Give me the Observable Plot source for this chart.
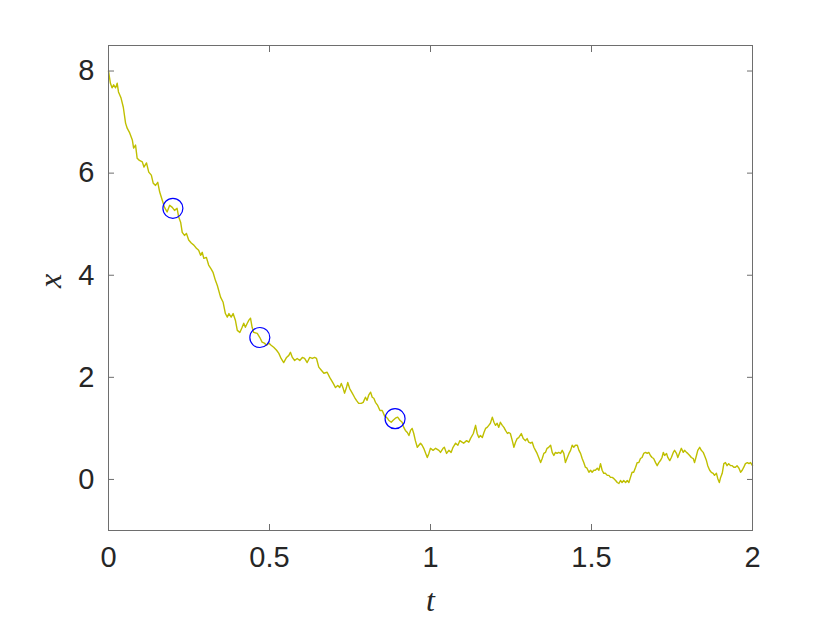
<!DOCTYPE html>
<html>
<head>
<meta charset="utf-8">
<script src="https://cdn.jsdelivr.net/npm/d3@7"></script>
<script src="https://cdn.jsdelivr.net/npm/@observablehq/plot@0.6"></script>
<style>
  html, body { margin: 0; padding: 0; background: #fff; }
  #chart { width: 830px; height: 623px; }
</style>
</head>
<body>
<div id="chart"></div>
<script>
// Path samples: time t and state x
const tValues = [
  0, 0.006, 0.011, 0.016, 0.022, 0.027, 0.031, 0.039, 0.046, 0.053, 0.058, 0.065, 0.074, 0.078, 0.084, 0.089,
  0.096, 0.105, 0.110, 0.118, 0.125, 0.133, 0.139, 0.146, 0.153, 0.159, 0.167, 0.174, 0.182, 0.190, 0.198, 0.205,
  0.213, 0.218, 0.224, 0.229, 0.236, 0.242, 0.249, 0.257, 0.265, 0.273, 0.280, 0.286, 0.291, 0.296,
  0.304, 0.311, 0.319, 0.325, 0.332, 0.338, 0.348, 0.356, 0.363, 0.369, 0.374, 0.381, 0.387, 0.394, 0.400, 0.408,
  0.415, 0.420, 0.425, 0.431, 0.436, 0.441, 0.446, 0.451, 0.462, 0.470, 0.477, 0.484, 0.491, 0.498, 0.505, 0.513,
  0.522, 0.529, 0.536, 0.544, 0.553, 0.560, 0.565, 0.571, 0.578, 0.586, 0.594, 0.602, 0.609, 0.617, 0.625, 0.633,
  0.640, 0.646, 0.653, 0.661, 0.669, 0.679, 0.687,
  0.698, 0.705, 0.712, 0.718, 0.723, 0.729, 0.733, 0.739, 0.743, 0.749, 0.757, 0.764, 0.770, 0.777, 0.785, 0.791,
  0.798, 0.803, 0.808, 0.814, 0.819, 0.824, 0.829, 0.836, 0.843, 0.850, 0.857, 0.866, 0.870, 0.878, 0.884, 0.891,
  0.898, 0.905, 0.912, 0.917, 0.922, 0.928, 0.933, 0.938, 0.943, 0.948, 0.953, 0.959, 0.964, 0.969, 0.974, 0.979,
  0.984, 0.990, 0.995, 1.000, 1.008, 1.016, 1.026,
  1.031, 1.039, 1.043, 1.050, 1.057, 1.064, 1.070, 1.078, 1.085, 1.091, 1.098, 1.103, 1.112, 1.119, 1.124, 1.133,
  1.140, 1.145, 1.150, 1.155, 1.161, 1.166, 1.171, 1.176, 1.181, 1.186, 1.192, 1.197, 1.202, 1.207, 1.212, 1.217,
  1.223, 1.228, 1.233, 1.239, 1.243, 1.248, 1.254, 1.259, 1.264, 1.269, 1.274, 1.282, 1.288, 1.295, 1.300, 1.305,
  1.311, 1.316, 1.321, 1.326, 1.331, 1.336, 1.342, 1.347, 1.352, 1.357, 1.362, 1.367,
  1.373, 1.378, 1.383, 1.388, 1.393, 1.398, 1.404, 1.409, 1.414, 1.419, 1.425, 1.430, 1.435, 1.440, 1.445, 1.450,
  1.456, 1.461, 1.466, 1.471, 1.476, 1.481, 1.486, 1.492, 1.497, 1.502, 1.507, 1.512, 1.518, 1.523, 1.528, 1.533,
  1.538, 1.543, 1.549, 1.554, 1.559, 1.564, 1.569, 1.575, 1.580, 1.585, 1.590, 1.595, 1.600, 1.606, 1.611, 1.616,
  1.621, 1.626, 1.631, 1.637, 1.642, 1.647, 1.652, 1.657, 1.662, 1.668, 1.673, 1.678, 1.683,
  1.688, 1.693, 1.699, 1.704, 1.709, 1.714, 1.719, 1.723, 1.727, 1.733, 1.737, 1.743, 1.748, 1.754, 1.758, 1.764,
  1.768, 1.774, 1.779, 1.785, 1.789, 1.795, 1.799, 1.805, 1.810, 1.816, 1.820, 1.826, 1.830, 1.836, 1.841, 1.847,
  1.851, 1.857, 1.861, 1.867, 1.872, 1.878, 1.882, 1.888, 1.892, 1.897, 1.901, 1.906, 1.911, 1.916, 1.921, 1.926,
  1.932, 1.937, 1.942, 1.947, 1.952, 1.958, 1.963, 1.968, 1.973, 1.978, 1.984, 1.989, 1.994, 2.000
];
const xValues = [
  8.00, 7.76, 7.67, 7.73, 7.67, 7.76, 7.59, 7.47, 7.29, 6.98, 6.88, 6.80, 6.65, 6.49, 6.55, 6.29,
  6.25, 6.22, 6.12, 6.20, 6.02, 5.96, 5.80, 5.76, 5.82, 5.63, 5.47, 5.33, 5.24, 5.37, 5.33, 5.27,
  5.31, 5.14, 5.04, 4.84, 4.78, 4.82, 4.69, 4.63, 4.59, 4.53, 4.49, 4.39, 4.45, 4.33,
  4.35, 4.20, 4.12, 4.05, 3.90, 3.80, 3.57, 3.47, 3.25, 3.18, 3.25, 3.18, 3.25, 3.12, 2.92, 2.88,
  2.98, 3.06, 2.98, 3.06, 3.12, 3.16, 2.98, 2.88, 2.86, 2.78, 2.69, 2.67, 2.63, 2.67, 2.63, 2.59,
  2.53, 2.47, 2.37, 2.29, 2.39, 2.43, 2.49, 2.39, 2.33, 2.37, 2.33, 2.39, 2.37, 2.29, 2.39, 2.37,
  2.39, 2.37, 2.20, 2.14, 2.08, 2.10, 2.00,
  1.88, 1.80, 1.84, 1.80, 1.88, 1.78, 1.69, 1.80, 1.90, 1.78, 1.69, 1.61, 1.55, 1.49, 1.49, 1.51,
  1.61, 1.55, 1.65, 1.71, 1.61, 1.59, 1.51, 1.45, 1.35, 1.35, 1.25, 1.20, 1.16, 1.12, 1.16, 1.20,
  1.22, 1.16, 1.12, 1.02, 0.96, 0.92, 0.86, 0.96, 1.00, 0.90, 0.76, 0.63, 0.67, 0.71, 0.67, 0.61,
  0.53, 0.43, 0.51, 0.61, 0.57, 0.61, 0.57,
  0.53, 0.61, 0.63, 0.51, 0.57, 0.53, 0.63, 0.71, 0.67, 0.76, 0.73, 0.71, 0.76, 0.73, 0.80, 0.90,
  1.06, 0.90, 0.82, 0.86, 0.82, 0.92, 1.00, 1.02, 1.06, 1.10, 1.22, 1.12, 1.06, 1.10, 1.02, 1.12,
  1.06, 1.02, 0.96, 0.90, 0.92, 0.90, 0.76, 0.63, 0.73, 0.80, 0.82, 0.90, 0.80, 0.76, 0.80, 0.73,
  0.71, 0.73, 0.63, 0.57, 0.51, 0.43, 0.33, 0.41, 0.51, 0.53, 0.61, 0.63,
  0.67, 0.53, 0.47, 0.53, 0.51, 0.53, 0.51, 0.57, 0.51, 0.33, 0.43, 0.51, 0.57, 0.67, 0.63, 0.67,
  0.67, 0.57, 0.51, 0.41, 0.33, 0.24, 0.22, 0.14, 0.18, 0.14, 0.18, 0.18, 0.22, 0.18, 0.31, 0.18,
  0.12, 0.12, 0.08, 0.08, 0.04, 0.04, 0.02, -0.02, -0.06, -0.08, -0.02, -0.06, -0.02, -0.06, -0.02, -0.06,
  0.04, 0.14, 0.14, 0.24, 0.33, 0.33, 0.41, 0.43, 0.51, 0.53, 0.51, 0.53, 0.47,
  0.43, 0.41, 0.33, 0.27, 0.33, 0.37, 0.43, 0.53, 0.47, 0.51, 0.43, 0.37, 0.43, 0.53, 0.57, 0.51,
  0.43, 0.53, 0.61, 0.53, 0.57, 0.53, 0.51, 0.47, 0.43, 0.41, 0.33, 0.47, 0.57, 0.63, 0.57, 0.53,
  0.47, 0.37, 0.27, 0.18, 0.14, 0.12, 0.08, 0.12, 0.02, -0.06, 0.04, 0.12, 0.31, 0.33, 0.27, 0.31,
  0.27, 0.27, 0.24, 0.24, 0.27, 0.22, 0.14, 0.18, 0.24, 0.31, 0.33, 0.31, 0.33, 0.27
];

// Highlighted sample points (blue circles)
const markT = [0.20, 0.47, 0.89];
const markX = [5.31, 2.78, 1.19];

// Axes
const xTicks = [0, 0.5, 1, 1.5, 2];
const yTicks = [0, 2, 4, 6, 8];
const xDomain = [0, 2];
const yDomain = [-1, 8.5];
const xAxisLabel = "t";
const yAxisLabel = "x";

const pathData = tValues.map((t, i) => ({t, x: xValues[i]}));
const markData = markT.map((t, i) => ({t, x: markX[i]}));

const axisColor = "#262626";
const frameColor = "#6e6e6e";
const hidden = () => "";

const chart = Plot.plot({
  width: 830,
  height: 623,
  marginLeft: 108,
  marginRight: 78,
  marginTop: 45,
  marginBottom: 93,
  style: {fontFamily: "'Liberation Sans', Arial, sans-serif", fontSize: "29px", color: axisColor, background: "#fff"},
  x: {domain: xDomain},
  y: {domain: yDomain},
  marks: [
    Plot.line(pathData, {x: "t", y: "x", stroke: "#bfbf00", strokeWidth: 1.4}),
    Plot.dot(markData, {x: "t", y: "x", r: 10, stroke: "#0000ff", strokeWidth: 1.2, fill: "none"}),
    Plot.frame({stroke: frameColor, strokeWidth: 1}),
    // inward ticks on all four sides
    Plot.axisX({anchor: "bottom", ticks: xTicks, tickSize: 6, dy: -6, tickFormat: hidden, label: null, stroke: frameColor}),
    Plot.axisX({anchor: "top", ticks: xTicks, tickSize: 6, dy: 6, tickFormat: hidden, label: null, stroke: frameColor}),
    Plot.axisY({anchor: "left", ticks: yTicks, tickSize: 6, dx: 6, tickFormat: hidden, label: null, stroke: frameColor}),
    Plot.axisY({anchor: "right", ticks: yTicks, tickSize: 6, dx: -6, tickFormat: hidden, label: null, stroke: frameColor}),
    // tick labels
    Plot.axisX({anchor: "bottom", ticks: xTicks, tickSize: 0, tickPadding: 16, tickFormat: d => String(d), label: null, fill: axisColor}),
    Plot.axisY({anchor: "left", ticks: yTicks, tickSize: 0, tickPadding: 14, tickFormat: d => String(d), label: null, fill: axisColor}),
    // axis titles
    Plot.text([xAxisLabel], {text: d => d, frameAnchor: "bottom", dy: 70, lineAnchor: "middle",
      fontFamily: "'Liberation Serif', 'DejaVu Serif', serif", fontStyle: "italic", fontSize: 32, fill: axisColor}),
    Plot.text([yAxisLabel], {text: d => d, frameAnchor: "left", dx: -58, rotate: -90, lineAnchor: "middle",
      fontFamily: "'Liberation Serif', 'DejaVu Serif', serif", fontStyle: "italic", fontSize: 32, fill: axisColor})
  ]
});

document.getElementById("chart").appendChild(chart);
</script>
</body>
</html>
